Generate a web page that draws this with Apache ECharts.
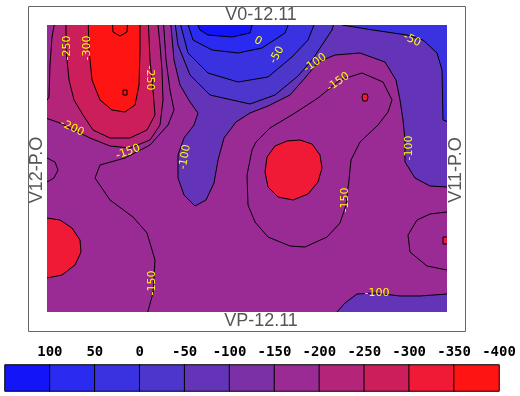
<!DOCTYPE html>
<html>
<head>
<meta charset="utf-8">
<script src="https://cdn.jsdelivr.net/npm/echarts@6/dist/echarts.min.js"></script>
<style>
  html, body { margin: 0; padding: 0; background: #fff; }
  #chart { width: 520px; height: 396px; }
</style>
</head>
<body>
<div id="chart"></div>
<script>
// colour bands (legend order, left to right)
const bandEdges = [100, 50, 0, -50, -100, -150, -200, -250, -300, -350];
const bandColors = ['#1414f8', '#2a2af0', '#3a32e0', '#4c36cc', '#6434b8', '#7c30a6',
  '#9a2a94', '#b42478', '#cc1e5a', '#f01a36', '#ff1414'];
const legendValues = [125, 75, 25, -25, -75, -125, -175, -225, -275, -325, -375];
const legendTicks = ['100', '50', '0', '-50', '-100', '-150', '-200', '-250', '-300', '-350', '-400'];

// contour outlines, in field units (x 0..400, y 0..287 from the top)
const fieldFrame = [[-10, -10], [410, -10], [410, 297], [-10, 297]];
const west150 = [[-10, -10], [116, -10], [119, 35], [123, 65], [127, 85], [121, 100], [103, 120], [78, 133],
  [53, 140], [48, 153], [63, 175], [86, 192], [100, 208], [108, 235], [106, 268], [98, 297], [-10, 297]];
const ring200 = [[9, -10], [5, 12], [3, 40], [2, 72], [-10, 90], [13, 98], [25, 104], [43, 113], [63, 121],
  [83, 123], [103, 115], [113, 100], [116, 75], [115, 45], [113, 20], [110, -10]];
const ring250 = [[19, -10], [19, 25], [22, 55], [27, 75], [36, 90], [46, 105], [63, 113], [83, 113],
  [100, 105], [108, 90], [106, 65], [103, 35], [101, -10]];
const core300 = [[41, -10], [42, 25], [45, 55], [53, 75], [65, 85], [78, 87], [88, 80], [92, 60], [93, 25], [93, -10]];
const notch300 = [[65, -10], [66, 7], [73, 11], [80, 7], [81, -10]];
const dot350 = [[76, 65], [80, 65], [80, 70], [76, 70]];
const purpleZone = [[123, -10], [127, 35], [133, 60], [143, 77], [151, 88], [147, 100], [137, 113], [131, 130],
  [131, 153], [137, 170], [148, 181], [159, 175], [167, 158], [171, 135], [177, 113], [189, 97], [203, 88],
  [221, 81], [243, 70], [258, 53], [271, 37], [288, 30], [313, 28], [338, 37], [349, 55], [353, 75], [356, 95],
  [358, 115], [358, 137], [368, 153], [383, 161], [400, 162], [410, 162], [410, -10]];
const bluePurple = [[127, -10], [131, 20], [143, 50], [163, 70], [203, 79], [228, 70], [251, 51], [265, 35],
  [275, 20], [285, 5], [289, -10]];
const blueTop = [[131, -10], [141, 28], [161, 48], [191, 57], [221, 52], [245, 32], [261, 15], [271, -10]];
const blueCorner = [[295, -10], [295, 0], [326, 5], [360, 10], [376, 15], [390, 28], [395, 45], [396, 95],
  [410, 100], [410, -10]];
const blue50 = [[138, -10], [146, 15], [165, 25], [191, 28], [215, 23], [238, 8], [245, -10]];
const blue100 = [[146, -10], [153, 5], [161, 10], [185, 12], [203, 8], [208, -10]];
const mid150 = [[205, 125], [200, 150], [201, 180], [208, 197], [221, 212], [243, 221], [258, 222], [280, 212],
  [293, 198], [299, 180], [302, 155], [304, 135], [313, 117], [331, 100], [341, 87], [345, 75], [336, 57],
  [315, 48], [293, 55], [271, 73], [248, 88], [223, 103], [209, 117]];
const midBlob = [[253, 115], [265, 119], [273, 130], [275, 143], [271, 157], [261, 169], [246, 175], [231, 172],
  [221, 162], [218, 147], [220, 132], [228, 121], [240, 116]];
const midDot = [[316, 69], [320, 69], [321, 72], [320, 76], [316, 76], [315, 72]];
const westBlob = [[-10, 192], [0, 193], [13, 195], [25, 203], [33, 215], [34, 227], [28, 240], [15, 250],
  [0, 253], [-10, 253]];
const westBump = [[-10, 132], [0, 133], [8, 137], [11, 145], [7, 153], [0, 157], [-10, 158]];
const eastLoop = [[410, 187], [400, 187], [383, 189], [370, 195], [361, 210], [363, 227], [380, 241],
  [400, 245], [410, 245]];
const eastDot = [[396, 212], [410, 212], [410, 219], [396, 219]];
const southPurple = [[290, 297], [290, 287], [298, 278], [310, 269], [328, 268], [353, 271], [373, 271],
  [400, 269], [410, 269], [410, 297]];

// [x, y, text, rotation in degrees]
const contourLabels = [
  [20, 23, '-250', 90], [40, 23, '-300', 90], [103, 53, '-250', -90], [25, 103, '-200', -25],
  [81, 127, '-150', 20], [138, 132, '-100', 80], [211, 16, '0', -30], [230, 30, '-50', 60],
  [268, 38, '-100', 35], [291, 57, '-150', 35], [365, 15, '-50', -25], [362, 123, '-100', 90],
  [298, 175, '-150', 90], [105, 258, '-150', 90], [330, 268, '-100', 0]
];

const contours = [
  { level: -175, pts: fieldFrame, line: false },
  { level: -175, pts: west150 },
  { level: -225, pts: ring200 },
  { level: -275, pts: ring250 },
  { level: -375, pts: core300 },
  { level: -375, pts: notch300 },
  { level: -375, pts: dot350 },
  { level: -75, pts: purpleZone },
  { level: -25, pts: bluePurple },
  { level: 25, pts: blueTop },
  { level: 25, pts: blueCorner },
  { level: 75, pts: blue50 },
  { level: 125, pts: blue100 },
  { level: -175, pts: mid150 },
  { level: -325, pts: midBlob },
  { level: -325, pts: midDot },
  { level: -325, pts: westBlob },
  { level: -175, pts: westBump },
  { level: -175, pts: eastLoop },
  { level: -325, pts: eastDot },
  { level: -75, pts: southPurple }
];

function levelColor(v) {
  return bandColors[bandEdges.filter(e => v <= e).length];
}

const pieces = bandColors.map((c, i) => {
  if (i === 0) return { gt: bandEdges[0], color: c };
  if (i === bandColors.length - 1) return { lte: bandEdges[i - 1], color: c };
  return { gt: bandEdges[i], lte: bandEdges[i - 1], color: c };
});

const chart = echarts.init(document.getElementById('chart'), null, { renderer: 'canvas' });

const sideText = { fill: '#555', font: '18px "Liberation Sans", Arial, sans-serif', align: 'center', verticalAlign: 'middle' };

const option = {
  animation: false,
  backgroundColor: '#fff',
  graphic: [
    { type: 'rect', shape: { x: 28.5, y: 6.5, width: 437, height: 325 }, style: { fill: null, stroke: '#666', lineWidth: 1 } },
    { type: 'text', x: 261, y: 15, style: Object.assign({ text: 'V0-12.11' }, sideText) },
    { type: 'text', x: 261, y: 321, style: Object.assign({ text: 'VP-12.11' }, sideText) },
    { type: 'text', x: 37, y: 170, rotation: Math.PI / 2, style: Object.assign({ text: 'V12-P.O' }, sideText) },
    { type: 'text', x: 456, y: 170, rotation: Math.PI / 2, style: Object.assign({ text: 'V11-P.O' }, sideText) }
  ],
  grid: [
    { left: 47, top: 25, width: 400, height: 287 },
    { left: 5, top: 365, width: 494, height: 26 }
  ],
  xAxis: [
    { gridIndex: 0, type: 'value', min: 0, max: 400, show: false },
    { gridIndex: 1, type: 'category', data: legendValues.map(String), show: false },
    {
      gridIndex: 1, type: 'value', position: 'top', min: 0, max: 11, interval: 1,
      axisLine: { show: false }, axisTick: { show: false }, splitLine: { show: false },
      axisLabel: {
        margin: 6, color: '#000', fontSize: 14, fontWeight: 'bold', fontFamily: 'DejaVu Sans Mono',
        formatter: v => (v >= 1 ? legendTicks[v - 1] : '')
      }
    }
  ],
  yAxis: [
    { gridIndex: 0, type: 'value', min: 0, max: 287, inverse: true, show: false },
    { gridIndex: 1, type: 'category', data: [''], show: false }
  ],
  visualMap: {
    type: 'piecewise', show: false, seriesIndex: 2, dimension: 2, pieces: pieces
  },
  series: [
    {
      type: 'custom',
      xAxisIndex: 0, yAxisIndex: 0,
      clip: true,
      silent: true,
      data: contours.map((c, i) => [i, c.level]),
      renderItem: (params, api) => {
        const c = contours[params.dataIndex];
        return {
          type: 'polygon',
          shape: { points: c.pts.map(p => api.coord(p)) },
          style: {
            fill: levelColor(c.level),
            stroke: c.line === false ? null : '#000',
            lineWidth: 1
          }
        };
      }
    },
    {
      type: 'custom',
      xAxisIndex: 0, yAxisIndex: 0,
      silent: true,
      data: contourLabels.map(l => [l[0], l[1]]),
      renderItem: (params, api) => {
        const l = contourLabels[params.dataIndex];
        const p = api.coord([l[0], l[1]]);
        return {
          type: 'text', x: p[0], y: p[1], rotation: l[3] * Math.PI / 180,
          style: { text: l[2], fill: '#ffff00', font: '11px "DejaVu Sans", sans-serif', align: 'center', verticalAlign: 'middle' }
        };
      }
    },
    {
      type: 'heatmap',
      xAxisIndex: 1, yAxisIndex: 1,
      silent: true,
      data: legendValues.map((v, i) => [i, 0, v]),
      itemStyle: { borderColor: '#000', borderWidth: 1 },
      emphasis: { disabled: true }
    }
  ]
};

chart.setOption(option);
</script>
</body>
</html>
